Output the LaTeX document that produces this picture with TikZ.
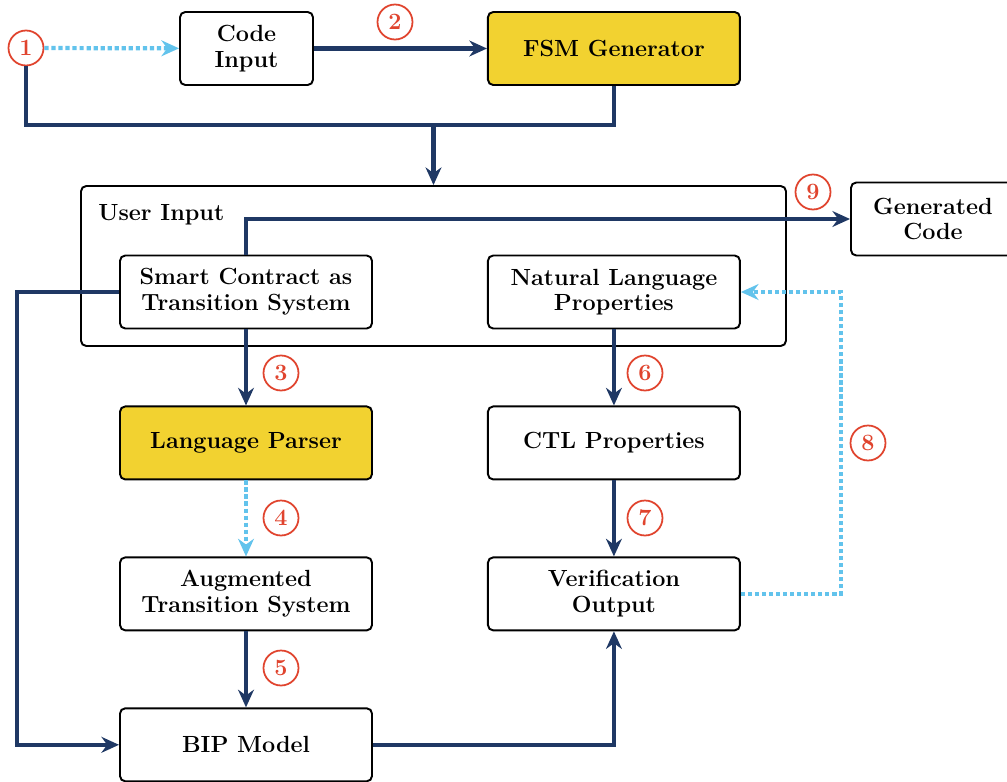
\documentclass[tikz,border=0pt]{standalone}
\usepackage{xcolor}
\usepackage{tikz}
\usetikzlibrary{arrows.meta,positioning}
\definecolor{navy}{HTML}{1F3864}
\definecolor{skyblue}{HTML}{62C3EC}
\definecolor{gold}{HTML}{F2D230}
\definecolor{stepred}{HTML}{E0442E}
\newcommand{\boxfont}{\fontsize{13.3}{14.6}\selectfont\bfseries}
\tikzset{
  box/.style={
    draw=black, fill=#1, rounded corners=3pt, line width=1.1pt,
    font=\boxfont, align=center, inner sep=4pt,
    minimum width=5.04cm, minimum height=1.46cm,
  },
  box/.default=white,
  stepnum/.style={circle, draw=stepred, line width=1pt, text=stepred,
    font=\boxfont, minimum size=0.7cm, inner sep=0pt},
  arrow/.style={-{Stealth[length=10pt, width=9pt]}, line width=2.4pt, color=navy},
  link/.style={line width=2.4pt, color=navy},
  dotarrow/.style={-{Stealth[length=10pt, width=9pt]}, line width=2.4pt,
    color=skyblue, dash pattern=on 2.4pt off 1.6pt},
}

\begin{document}
\begin{tikzpicture}
  \useasboundingbox (0,0) rectangle (20.14,-15.64);

  % top row
  \node[box, minimum width=2.66cm] (code) at (4.93,-0.97) {Code\\Input};
  \node[box=gold, right=3.46cm of code] (fsm) {FSM Generator};

  % user input group
  \node[draw=black, rounded corners=3pt, line width=1.1pt,
        minimum width=14.1cm, minimum height=3.2cm] (userin) at (8.67,-5.32) {};
  \node[font=\boxfont, anchor=north west, inner sep=0pt] (uilabel)
    at ([shift={(0.36,-0.38)}]userin.north west) {User Input};

  \node[box] (sc) at (4.92,-5.84) {Smart Contract as\\Transition System};
  \node[box, right=2.28cm of sc] (nl) {Natural Language\\Properties};

  % left column
  \node[box=gold, below=1.52cm of sc] (lp) {Language Parser};
  \node[box, below=1.52cm of lp] (ats) {Augmented\\Transition System};
  \node[box, below=1.52cm of ats] (bip) {BIP Model};

  % right column
  \node[box, below=1.52cm of nl] (ctl) {CTL Properties};
  \node[box, below=1.52cm of ctl] (vo) {Verification\\Output};

  \node[box, minimum width=3.28cm] (gen) at (18.66,-4.38) {Generated\\Code};

  % step numbers
  \node[stepnum] (s1) at (0.52,-0.96) {1};
  \node[stepnum] (s2) at (7.90,-0.44) {2};
  \node[stepnum] (s3) at (5.62,-7.46) {3};
  \node[stepnum] (s4) at (5.62,-10.36) {4};
  \node[stepnum] (s5) at (5.62,-13.36) {5};
  \node[stepnum] (s6) at (12.90,-7.46) {6};
  \node[stepnum] (s7) at (12.90,-10.36) {7};
  \node[stepnum] (s8) at (17.36,-8.86) {8};
  \node[stepnum] (s9) at (16.26,-3.84) {9};

  \coordinate (join) at (userin.north |- 0,-2.5);

  \draw[dotarrow] (s1) -- (code);
  \draw[arrow] (code) -- (fsm);
  \draw[link] (s1.south) |- (join) -| (fsm.south);
  \draw[arrow] (join) -- (userin.north);
  \draw[arrow] (sc.north) |- (gen.west);
  \draw[arrow] (sc) -- (lp);
  \draw[dotarrow] (lp) -- (ats);
  \draw[arrow] (ats) -- (bip);
  \draw[arrow] (nl) -- (ctl);
  \draw[arrow] (ctl) -- (vo);
  \draw[dotarrow] (vo.east) -- ++(2.0,0) |- (nl.east);
  \draw[arrow] (sc.west) -- ++(-2.04,0) |- (bip.west);
  \draw[arrow] (bip.east) -| (vo.south);

\end{tikzpicture}
\end{document}
